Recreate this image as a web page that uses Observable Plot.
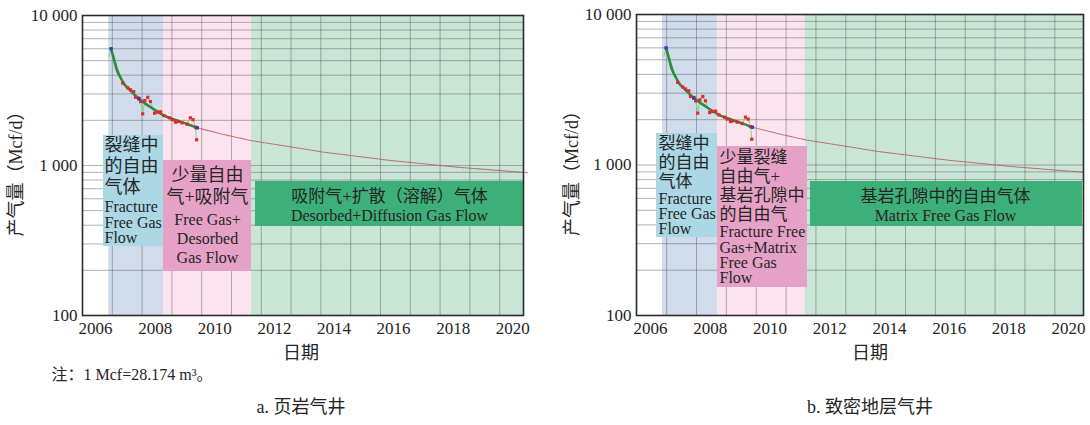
<!DOCTYPE html>
<html><head><meta charset="utf-8">
<script src="https://cdn.jsdelivr.net/npm/d3@7"></script>
<script src="https://cdn.jsdelivr.net/npm/@observablehq/plot@0.6"></script>
<style>
body{margin:0;background:#fff;}
#wrap{position:relative;width:1090px;height:425px;overflow:hidden;background:#fff;}
#wrap svg{position:absolute;top:0;}
</style></head><body><div id="wrap"></div>
<script>
// ---- data ----
const actualYears = [2006.44, 2006.52, 2006.91, 2007.08, 2007.17, 2007.28, 2007.34, 2007.45, 2007.51, 2007.58, 2007.65, 2007.75, 2007.84, 2007.98, 2008.07, 2008.18, 2008.29, 2008.48, 2008.57, 2008.68, 2008.76, 2008.90, 2009.07, 2009.18, 2009.27, 2009.35, 2009.39];
const actualRates = [5270, 6000, 3540, 3300, 3200, 3110, 2850, 2810, 2670, 2210, 2710, 2850, 2670, 2230, 2270, 2280, 2150, 2080, 2020, 1945, 1965, 1926, 1885, 2080, 2020, 1800, 1484];
const firstMarked = 2;
const fitYears = [2006.52, 2006.60, 2006.72, 2006.835, 2006.95, 2007.17, 2007.45, 2007.85, 2008.29, 2008.74, 2009.07, 2009.41];
const fitRates = [6000, 5250, 4300, 3860, 3510, 3160, 2785, 2447, 2154, 1995, 1891, 1783];
const forecastYears = [2009.41, 2010.30, 2011.20, 2013.66, 2015.90, 2018.13, 2020.50];
const forecastRates = [1783, 1610, 1468, 1227, 1080, 975, 895];
const knotYears = [2006.52, 2007.45, 2009.41];
const knotRates = [6000, 2785, 1783];
const yTicks = [100, 500, 1000, 5000, 10000];
const xTicks = [2006, 2008, 2010, 2012, 2014, 2016, 2018, 2020];
const gridYears = [2006, 2007, 2008, 2009, 2010, 2011, 2012, 2013, 2014, 2015, 2016, 2017, 2018, 2019];
const gridRates = [200, 300, 400, 500, 600, 700, 800, 900, 1000, 2000, 3000, 4000, 5000, 6000, 7000, 8000, 9000];
const phaseStartsA = [2006.44, 2008.28, 2011.23];
const phaseStartsB = [2006.40, 2008.24, 2011.18];
const bandColors = ["#d0dcec", "#fbe4ef", "#c8e5d5"];
const boxColors = ["#acd7e5", "#e6a2c6", "#3daf78"];

const FONT = "'Liberation Serif', 'Noto Sans CJK SC', serif";
const TXT = "#252525";

const actual = actualYears.map((x, i) => ({x, y: actualRates[i]}));
const fit = fitYears.map((x, i) => ({x, y: fitRates[i]}));
const forecast = forecastYears.map((x, i) => ({x, y: forecastRates[i]}));
const knots = knotYears.map((x, i) => ({x, y: knotRates[i]}));

function panel(cfg) {
  const W = 545, H = 425, bottom = 315;
  const {ml, mr, mt, domain} = cfg;
  const xv = px => domain[0] + (px - ml) / (W - ml - mr) * (domain[1] - domain[0]);
  const yv = py => 10 ** (4 - 2 * (py - mt) / (bottom - mt));
  const bands = cfg.starts.map((s, i) => ({x1: s, x2: i < cfg.starts.length - 1 ? cfg.starts[i + 1] : domain[1], y1: 100, y2: 10000, fill: bandColors[i]}));
  const marks = [
    Plot.rect(bands, {x1: "x1", x2: "x2", y1: "y1", y2: "y2", fill: d => d.fill}),
    Plot.ruleY(gridRates, {stroke: "#666", strokeOpacity: 0.5, strokeWidth: 1}),
    Plot.ruleX(gridYears.map(g => g + cfg.gridOff), {stroke: "#555", strokeOpacity: 0.45, strokeWidth: 1}),
    Plot.line(forecast, {x: "x", y: "y", stroke: "#b8524e", strokeOpacity: 0.85, strokeWidth: 1.1, strokeDasharray: "1,1.1"}),
    Plot.line(actual, {x: "x", y: "y", stroke: "#7fd47f", strokeWidth: 1}),
    Plot.line(fit, {x: "x", y: "y", stroke: "#2b8c3a", strokeWidth: 2.6, curve: "monotone-x"}),
    Plot.dot(actual.slice(firstMarked), {x: "x", y: "y", symbol: "square", r: 1.8, fill: "#e02a2a"}),
    Plot.dot(knots, {x: "x", y: "y", symbol: "square", r: 1.9, fill: "#2a40c0"})
  ];
  cfg.boxes.forEach(b => {
    marks.push(Plot.rect([b], {x1: d => xv(d.x1), x2: d => xv(d.x2), y1: d => yv(d.y2), y2: d => yv(d.y1), fill: b.fill}));
    b.groups.forEach(g => {
      marks.push(Plot.text(g.lines, {x: d => xv(g.px), y: d => yv(d[1]), text: d => d[0], fontSize: g.size, textAnchor: g.anchor, fill: TXT}));
    });
  });
  marks.push(
    Plot.frame({stroke: "#2b2b2b", strokeWidth: 1.6}),
    Plot.axisX(xTicks, {tickSize: 0, tickPadding: 6, tickFormat: d => String(d), label: null, fill: TXT, fontSize: 17}),
    Plot.axisY(yTicks, {tickSize: 0, tickPadding: 5, tickFormat: d => d3.format(",")(d).replace(/,/g, " "), label: null, fill: TXT, fontSize: 17}),
    Plot.text(["日期"], {frameAnchor: "bottom", dy: 43, dx: cfg.xlabDx, text: d => d, fontSize: 18, fill: TXT}),
    Plot.text(["产气量（Mcf/d）"], {frameAnchor: "left", textAnchor: "middle", rotate: -90, dx: cfg.ylabX - ml, dy: 4, text: d => d, fontSize: 18, fill: TXT}),
    Plot.text([cfg.caption], {frameAnchor: "bottom", dy: 97, dx: cfg.capDx, text: d => d, fontSize: 18, fill: TXT})
  );
  if (cfg.note) marks.push(Plot.text([cfg.note], {frameAnchor: "bottom-left", textAnchor: "start", dx: 51 - ml, dy: 64, text: d => d, fontSize: 16, fill: TXT}));
  const svg = Plot.plot({
    width: W, height: H,
    marginLeft: ml, marginRight: mr, marginTop: mt, marginBottom: H - bottom,
    x: {domain, axis: null},
    y: {type: "log", domain: [100, 10000], axis: null},
    color: {type: "identity"},
    style: {fontFamily: FONT, fontSize: "17px", color: TXT, background: "transparent", overflow: "visible"},
    marks
  });
  svg.style.left = cfg.left + "px";
  document.getElementById("wrap").appendChild(svg);
}

panel({
  left: 0, ml: 82, mr: 22, mt: 15, domain: [2005.56, 2020.36], starts: phaseStartsA, gridOff: 0.56,
  ylabX: 16, xlabDx: -2, capDx: -2, caption: "a. 页岩气井", note: "注：1 Mcf=28.174 m³。",
  boxes: [
    {x1: 103, x2: 163, y1: 135, y2: 246, fill: boxColors[0], groups: [
      {px: 104, size: 18, anchor: "start", lines: [["裂缝中", 145], ["的自由", 166], ["气体", 187]]},
      {px: 104, size: 16, anchor: "start", lines: [["Fracture", 206], ["Free Gas", 222], ["Flow", 237]]}]},
    {x1: 163, x2: 251, y1: 160, y2: 271, fill: boxColors[1], groups: [
      {px: 207, size: 18, anchor: "middle", lines: [["少量自由", 175], ["气+吸附气", 197]]},
      {px: 207, size: 16, anchor: "middle", lines: [["Free Gas+", 219], ["Desorbed", 238], ["Gas Flow", 257]]}]},
    {x1: 255, x2: 523, y1: 181, y2: 226, fill: boxColors[2], groups: [
      {px: 389, size: 17, anchor: "middle", lines: [["吸附气+扩散（溶解）气体", 196]]},
      {px: 389, size: 16, anchor: "middle", lines: [["Desorbed+Diffusion Gas Flow", 215]]}]}
  ]
});

panel({
  left: 545, ml: 91, mr: 7, mt: 14, domain: [2005.53, 2020.50], starts: phaseStartsB, gridOff: 0.54,
  ylabX: 27, xlabDx: 10, capDx: 10, caption: "b. 致密地层气井", note: null,
  boxes: [
    {x1: 111, x2: 172, y1: 133, y2: 237, fill: boxColors[0], groups: [
      {px: 113, size: 17, anchor: "start", lines: [["裂缝中", 143], ["的自由", 162], ["气体", 181]]},
      {px: 113, size: 16, anchor: "start", lines: [["Fracture", 198], ["Free Gas", 213], ["Flow", 228]]}]},
    {x1: 172, x2: 262, y1: 146, y2: 287, fill: boxColors[1], groups: [
      {px: 174, size: 17, anchor: "start", lines: [["少量裂缝", 157], ["自由气+", 176], ["基岩孔隙中", 195], ["的自由气", 214]]},
      {px: 174, size: 16, anchor: "start", lines: [["Fracture Free", 231], ["Gas+Matrix", 247], ["Free Gas", 262], ["Flow", 277]]}]},
    {x1: 265, x2: 537, y1: 181, y2: 226, fill: boxColors[2], groups: [
      {px: 400, size: 17, anchor: "middle", lines: [["基岩孔隙中的自由气体", 196]]},
      {px: 400, size: 16, anchor: "middle", lines: [["Matrix Free Gas Flow", 215]]}]}
  ]
});
</script></body></html>
